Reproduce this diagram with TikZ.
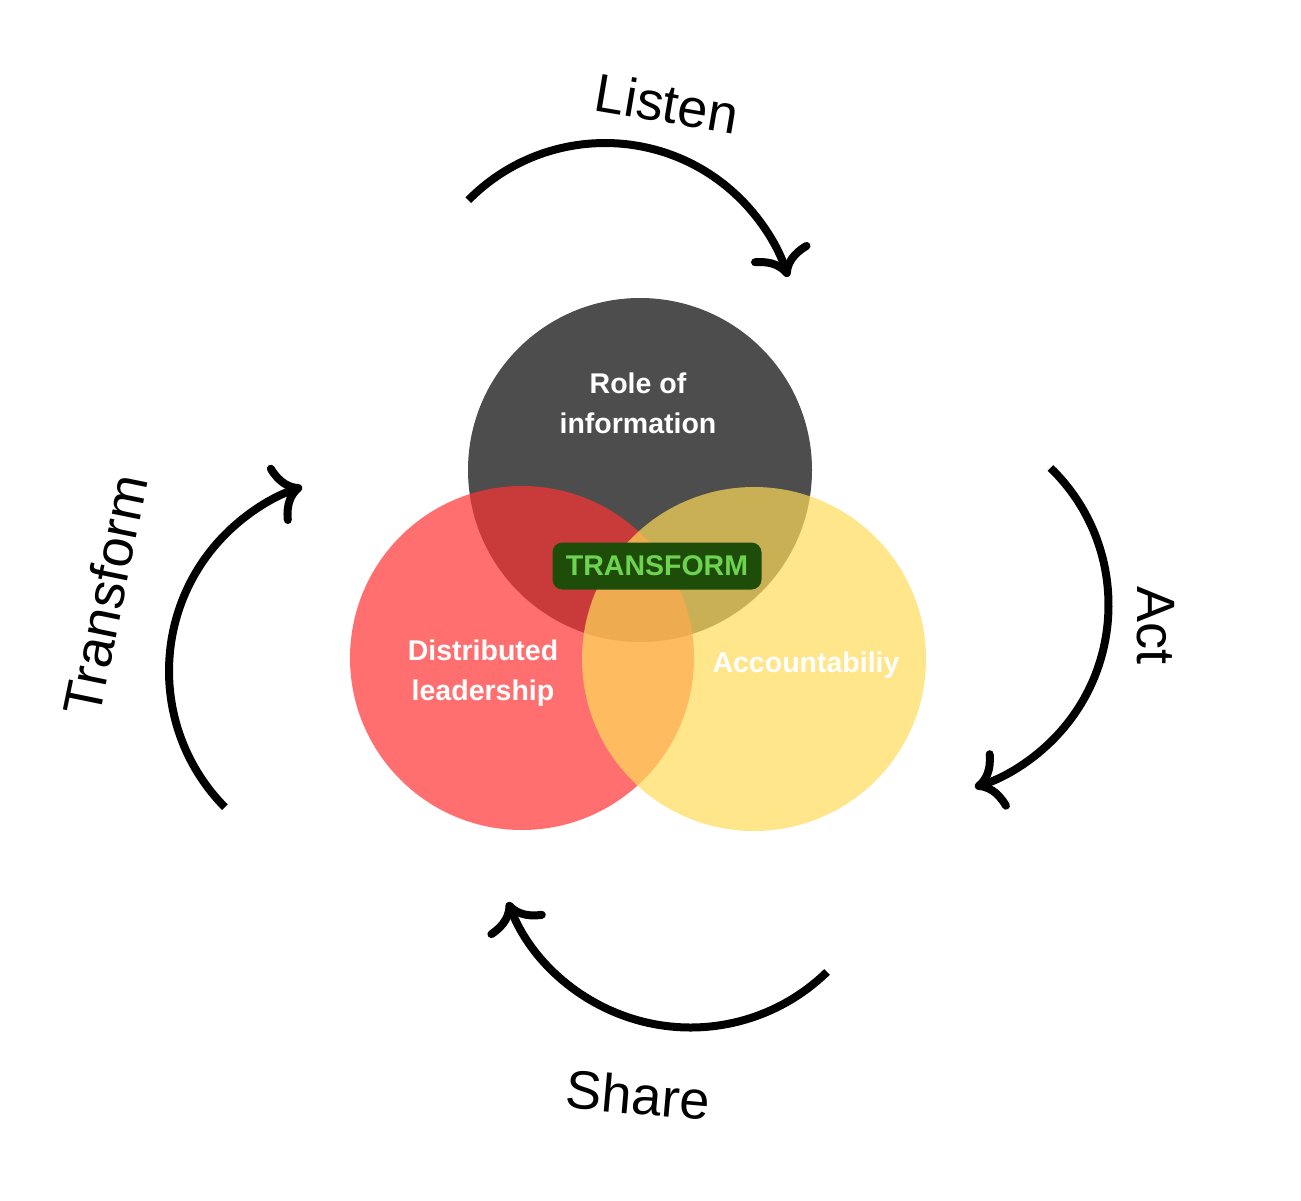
\documentclass[tikz,border=0pt]{standalone}
\usepackage{fontspec}
\setmainfont{Liberation Sans}
\usetikzlibrary{arrows.meta}
\definecolor{infogray}{HTML}{4D4D4D}
\definecolor{leadred}{RGB}{255,50,50}
\definecolor{accyellow}{RGB}{255,219,88}
\definecolor{boxgreen}{RGB}{30,77,10}
\definecolor{textgreen}{RGB}{110,212,80}
\begin{document}
\begin{tikzpicture}[x=0.5pt,y=-0.5pt,line join=round,
	>={Computer Modern Rightarrow[length=14pt,width=31pt]}]
	\tikzset{venn/.style={circle,minimum size=172pt,inner sep=0pt},
		circle text/.style={text=white,align=center,font=\bfseries\fontsize{14.25pt}{20pt}\selectfont},
		cycle arrow/.style={->,line width=4pt},
		cycle text/.style={font=\fontsize{27pt}{33pt}\selectfont}}
	\useasboundingbox (0,0) rectangle (1301,1200);
	% circles
	\node[venn,fill=infogray] (info) at (640,470) {};
	\node[venn,fill=leadred,fill opacity=.7] (lead) at (522,658) {};
	\node[venn,fill=accyellow,fill opacity=.7] (acc) at (754,659) {};
	\node[circle text] (infot) at (638,403) {Role of\\information};
	\node[circle text] (leadt) at (483,673) {Distributed\\leadership};
	\node[circle text] (acct) at (806,665) {Accountabiliy};
	\node[fill=boxgreen,rounded corners=5pt,text=textgreen,inner sep=0pt,
		minimum width=104.5pt,minimum height=23.5pt,
		font=\bfseries\fontsize{14.25pt}{17pt}\selectfont] (core) at (657,566) {TRANSFORM};
	% cycle
	\coordinate (c1) at (605,335);
	\coordinate (c2) at (917.5,605);
	\coordinate (c3) at (690.5,832);
	\coordinate (c4) at (363,671);
	\draw[cycle arrow] (c1) ++(-135.4:192) arc[start angle=-135.4,end angle=-17.6,radius=192];
	\draw[cycle arrow] (c2) ++(-45.9:191) arc[start angle=-45.9,end angle=72.5,radius=191];
	\draw[cycle arrow] (c3) ++(45.7:195.5) arc[start angle=45.7,end angle=159,radius=195.5];
	\draw[cycle arrow] (c4) ++(135.4:194) arc[start angle=135.4,end angle=251.7,radius=194];
	\node[cycle text,rotate=-9.6] (listen) at (667,103) {Listen};
	\node[cycle text,rotate=-90] (act) at (1156,625) {Act};
	\node[cycle text,rotate=-5] (share) at (638,1095) {Share};
	\node[cycle text,rotate=78.4] (transf) at (105,595) {Transform};
\end{tikzpicture}
\end{document}
